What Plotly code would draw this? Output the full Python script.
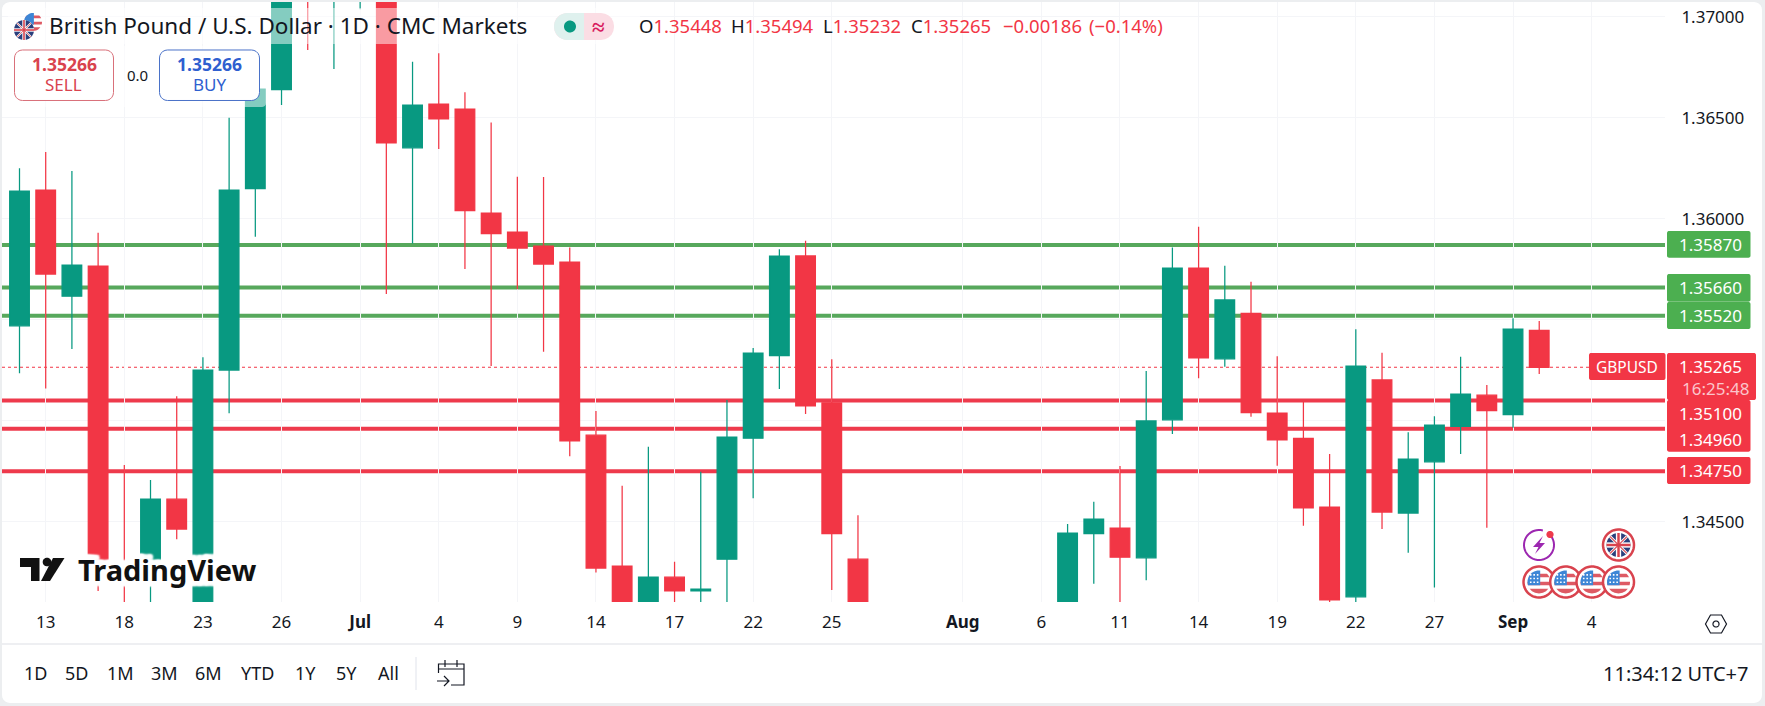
# GBPUSD daily candles, TradingView style

import numpy as np
import pandas as pd
import plotly.graph_objects as go

W, H = 1765, 706
FONT = "Noto Sans"
GREEN = "#089981"
RED = "#F23645"
LEVEL_GREEN = "#57A85C"
LEVEL_RED = "#EE3A4C"
TEXT = "#131722"

# weekdays from 12 Jun, None where the bar is below the visible range
DAYS = pd.bdate_range("2025-06-12", periods=66).strftime("%Y-%m-%d").tolist()

OPEN = [1.35470, 1.36142, 1.35617, 1.35766, 1.34038, 1.34302, 1.34612, 1.34063, 1.35251, 1.36149,
        1.36639, 1.37380, 1.37132, 1.37182, 1.37157, 1.36351, 1.36568, 1.36543, 1.36028, 1.35934,
        1.35865, 1.35786, 1.34929, 1.34281, 1.34053, 1.34226, 1.34158, 1.34315, 1.34914, 1.35322,
        1.35816, 1.35089, 1.34315, None, None, None, None, None, None, None,
        1.34053, 1.34441, 1.34469, 1.34322, 1.35005, 1.35756, 1.35307, 1.35532, 1.35038, 1.34913,
        1.34573, 1.34129, 1.35202, 1.34543, 1.34797, 1.34972, 1.35127, 1.35030, 1.35448]
HIGH = [1.36250, 1.36330, 1.36236, 1.35931, 1.34781, 1.34707, 1.35122, 1.35314, 1.36500, 1.36736,
        1.37231, 1.37429, 1.37380, 1.37479, 1.37231, 1.36777, 1.36819, 1.36626, 1.36477, 1.36208,
        1.36207, 1.35858, 1.35048, 1.34678, 1.34871, 1.34302, 1.34748, 1.35103, 1.35360, 1.35849,
        1.35891, 1.35305, 1.34533, None, None, None, None, None, None, None,
        1.34489, 1.34599, 1.34776, 1.35246, 1.35858, 1.35960, 1.35767, 1.35688, 1.35320, 1.35094,
        1.34835, 1.35453, 1.35337, 1.34943, 1.35023, 1.35317, 1.35177, 1.35507, 1.35494]
LOW = [1.35235, 1.35160, 1.35355, 1.34158, 1.33815, 1.34083, 1.34414, 1.34013, 1.35037, 1.35911,
       1.36563, 1.36835, 1.36741, 1.37037, 1.35627, 1.35878, 1.36345, 1.35751, 1.35271, 1.35651,
       1.35342, 1.34825, 1.34249, 1.33989, 1.34013, 1.34053, 1.34063, 1.34053, 1.34616, 1.35157,
       1.35033, 1.34162, 1.33989, None, None, None, None, None, None, None,
       1.34013, 1.34193, 1.34093, 1.34211, 1.34934, 1.35211, 1.35267, 1.35020, 1.34777, 1.34480,
       1.34103, 1.34103, 1.34464, 1.34347, 1.34175, 1.34835, 1.34470, 1.34965, 1.35232]
CLOSE = [1.36137, 1.35726, 1.35771, 1.34302, 1.33914, 1.34612, 1.34464, 1.35251, 1.36142, 1.36642,
         1.37182, 1.37206, 1.37281, 1.37330, 1.36376, 1.36563, 1.36495, 1.36040, 1.35926, 1.35855,
         1.35776, 1.34901, 1.34271, 1.34038, 1.34226, 1.34158, 1.34167, 1.34919, 1.35335, 1.35815,
         1.35074, 1.34441, 1.34053, None, None, None, None, None, None, None,
         1.34444, 1.34513, 1.34325, 1.34999, 1.35756, 1.35312, 1.35598, 1.35040, 1.34906, 1.34569,
         1.34114, 1.35271, 1.34548, 1.34810, 1.34979, 1.35132, 1.35050, 1.35454, 1.35265]

TICK_DAYS = ["2025-06-13", "2025-06-18", "2025-06-23", "2025-06-26", "2025-07-01", "2025-07-04",
             "2025-07-09", "2025-07-14", "2025-07-17", "2025-07-22", "2025-07-25", "2025-08-01",
             "2025-08-06", "2025-08-11", "2025-08-14", "2025-08-19", "2025-08-22", "2025-08-27",
             "2025-09-01", "2025-09-04"]
TICK_TEXT = ["13", "18", "23", "26", "<b>Jul</b>", "4", "9", "14", "17", "22", "25", "<b>Aug</b>",
             "6", "11", "14", "19", "22", "27", "<b>Sep</b>", "4"]

PRICE_TICKS = [1.345, 1.350, 1.355, 1.360, 1.365, 1.370]
PRICE_TEXT = ["1.34500", "", "", "1.36000", "1.36500", "1.37000"]

GREEN_LEVELS = [1.3587, 1.3566, 1.3552]
RED_LEVELS = [1.3510, 1.3496, 1.3475]
LAST_PRICE = 1.35265

RANGE_BUTTONS = ["1D", "5D", "1M", "3M", "6M", "YTD", "1Y", "5Y", "All"]
BUTTON_X = [35, 76.5, 120.5, 164.5, 208, 257, 305, 346, 388]


def px(x):
    return x / W


def py(y):
    return 1 - y / H


def poly(points):
    return "M" + " L".join(f"{px(x):.5f},{py(y):.5f}" for x, y in points) + " Z"


def round_rect(x0, y0, x1, y1, r):
    pts = []
    for cx, cy, a0 in [(x1 - r, y0 + r, -90), (x1 - r, y1 - r, 0), (x0 + r, y1 - r, 90), (x0 + r, y0 + r, 180)]:
        for a in np.linspace(a0, a0 + 90, 6):
            pts.append((cx + r * np.cos(np.radians(a)), cy + r * np.sin(np.radians(a))))
    return poly(pts)


shapes = []
annotations = []


def add_path(path, fill="rgba(0,0,0,0)", line=None, width=0, layer="above", opacity=1):
    shapes.append(dict(type="path", xref="paper", yref="paper", path=path, fillcolor=fill, layer=layer,
                       opacity=opacity, line=dict(color=line or "rgba(0,0,0,0)", width=width)))


def add_text(x, y, text, size=15, color=TEXT, anchor="left", **font):
    annotations.append(dict(x=px(x), y=py(y), xref="paper", yref="paper", text=text, showarrow=False,
                            xanchor=anchor, yanchor="middle", align=anchor, borderpad=0,
                            font=dict(family=FONT, size=size, color=color, **font)))


def circle(cx, cy, r, a0=0, a1=360, n=48):
    return [(cx + r * np.cos(np.radians(a)), cy + r * np.sin(np.radians(a))) for a in np.linspace(a0, a1, n)]


def band(cx, cy, r, d0, d1):
    # horizontal stripe of a disc
    ds = np.linspace(d0, d1, 8)
    left = [(cx - np.sqrt(max(r * r - d * d, 0)), cy + d) for d in ds]
    right = [(cx + np.sqrt(max(r * r - d * d, 0)), cy + d) for d in ds[::-1]]
    return left + right


def us_flag(cx, cy, r, ring=True):
    add_path(poly(circle(cx, cy, r)), fill="white", line="#D9434E" if ring else None, width=2.5 if ring else 0)
    q = r - 4 if ring else r
    add_path(poly(band(cx, cy, q, -0.02 * q, 0.28 * q)), fill="#DE5A64")
    add_path(poly(band(cx, cy, q, 0.58 * q, q)), fill="#DE5A64")
    add_path(poly(band(cx, cy, q, -0.72 * q, -0.42 * q)), fill="#DE5A64")
    add_path(poly(circle(cx, cy, q, 180, 270, 12) + [(cx + 0.1 * q, cy - q), (cx + 0.1 * q, cy + 0.28 * q), (cx - q * 0.96, cy + 0.28 * q)]),
             fill="#3D86D6")
    if ring:
        dots = ""
        for dx in [-0.72, -0.42, -0.12]:
            for dy in [-0.62, -0.3, 0.02]:
                x, y = cx + dx * q, cy + dy * q
                dots += poly([(x - 0.8, y - 0.8), (x + 0.8, y - 0.8), (x + 0.8, y + 0.8), (x - 0.8, y + 0.8)]) + " "
        add_path(dots, fill="white")


def uk_flag(cx, cy, r, ring=True):
    add_path(poly(circle(cx, cy, r)), fill="white", line="#D9434E" if ring else None, width=2.5 if ring else 0)
    q = r - 3.5 if ring else r
    add_path(poly(circle(cx, cy, q)), fill="#2A3F7C")
    k = q * 0.7
    for sx, col, w in [(1, "white", 0.18 * r), (-1, "white", 0.18 * r), (0, "white", 0.34 * r), (2, "white", 0.34 * r),
                       (1, "#D9434E", 0.07 * r), (-1, "#D9434E", 0.07 * r), (0, "#D9434E", 0.16 * r), (2, "#D9434E", 0.16 * r)]:
        if sx == 0:
            a, b = (cx - q, cy), (cx + q, cy)
        elif sx == 2:
            a, b = (cx, cy - q), (cx, cy + q)
        else:
            a, b = (cx - k, cy - sx * k), (cx + k, cy + sx * k)
        add_path(f"M{px(a[0]):.5f},{py(a[1]):.5f} L{px(b[0]):.5f},{py(b[1]):.5f}", line=col, width=w)


# page frame
add_path(round_rect(2, 2, 1762, 703, 8), fill="white", layer="below")

# support and resistance levels sit under the candles
for level in GREEN_LEVELS:
    shapes.append(dict(type="line", xref="x domain", yref="y", x0=0, x1=1, y0=level, y1=level, layer="below",
                       line=dict(color=LEVEL_GREEN, width=4)))
for level in RED_LEVELS:
    shapes.append(dict(type="line", xref="x domain", yref="y", x0=0, x1=1, y0=level, y1=level, layer="below",
                       line=dict(color=LEVEL_RED, width=4)))
shapes.append(dict(type="line", xref="x domain", yref="y", x0=0, x1=1, y0=LAST_PRICE, y1=LAST_PRICE, layer="below",
                   line=dict(color=RED, width=1, dash="dot")))

# translucent legend backing
add_path(round_rect(8, 8, 640, 44, 4), fill="white", opacity=0.5)
add_path(round_rect(8, 46, 266, 107, 4), fill="white", opacity=0.5)

# price scale tags
for y0, y1 in [(231, 257.7), (274, 301.7), (302, 329)]:
    add_path(round_rect(1667, y0, 1750.5, y1, 2), fill="#4CAF50")
for x0, y0, x1, y1 in [(1589, 353, 1665.5, 380), (1667, 353, 1756, 400), (1667, 400, 1750.5, 451.7), (1667, 457, 1750.5, 484)]:
    add_path(round_rect(x0, y0, x1, y1, 2), fill=RED)
for y, label in zip([244.5, 287.5, 315.5], ["1.35870", "1.35660", "1.35520"]):
    add_text(1743, y, label, size=17, color="white", anchor="right")
for y, label in zip([366.5, 413.5, 439, 470.5], ["1.35265", "1.35100", "1.34960", "1.34750"]):
    add_text(1743, y, label, size=17, color="white", anchor="right")
add_text(1750, 388, "16:25:48", size=17, color="#FBC5CB", anchor="right")
add_text(1627, 366.5, "GBPUSD", size=15.5, color="white", anchor="center")

# legend row
us_flag(33, 22, 9, ring=False)
uk_flag(24, 30, 10, ring=False)
add_text(48, 26, "British Pound / U.S. Dollar · 1D · CMC Markets", size=22.5)
add_path(round_rect(554, 13, 614, 40, 13), fill="#FBDDE4")
add_path(poly(circle(567.5, 26.5, 13.5, 90, 270, 16) + [(584, 13), (584, 40)]), fill="#DFF1EE")
add_path(poly(circle(570, 26.5, 6)), fill=GREEN)
add_text(598, 26, "<b>≈</b>", size=23, color="#D81B60", anchor="center")
for x, letter, value in [(638, "O", "1.35448"), (730, "H", "1.35494"), (822, "L", "1.35232"), (910, "C", "1.35265")]:
    add_text(x, 26, f"{letter}<span style='color:{RED}'>{value}</span>", size=18.5)
add_text(1002, 26, "−0.00186", size=18.5, color=RED)
add_text(1088, 26, "(−0.14%)", size=18.5, color=RED)

# sell and buy buttons
add_path(round_rect(14.5, 50, 113.5, 100.5, 8), fill="white", line="#D9707A", width=1)
add_path(round_rect(159.5, 50, 259.5, 100.5, 8), fill="white", line="#4A72C8", width=1)
add_text(64.5, 64, "<b>1.35266</b>", size=17.5, color="#D9434E", anchor="center")
add_text(64, 85, "SELL", size=17, color="#D9434E", anchor="center")
add_text(209.5, 64, "<b>1.35266</b>", size=17.5, color="#2F5FD0", anchor="center")
add_text(209, 85, "BUY", size=17, color="#2F5FD0", anchor="center")
add_text(137, 75.5, "0.0", size=15, anchor="center")

# TradingView logo
add_path(poly([(20, 558), (39.5, 558), (39.5, 581), (31, 581), (31, 567), (20, 567)]), fill="#111111")
add_path(poly(circle(47, 562, 4.3)), fill="#111111")
add_path(poly([(53, 558), (64.5, 558), (50, 581), (41, 581)]), fill="#111111")
halo = ", ".join(f"{dx}px {dy}px 2px white" for dx in (-5, -3, 0, 3, 5) for dy in (-5, -3, 0, 3, 5))
add_text(77, 569, "<b>TradingView</b>", size=29, color="#111111", shadow=halo)

# event icons
add_path("M" + " L".join(f"{px(x):.5f},{py(y):.5f}" for x, y in circle(1539, 545, 15, -35, 285, 40)), line="#9C27B0", width=2)
add_path(poly(circle(1550, 534.5, 3.6)), fill="#EE3A4C")
add_path(poly([(1543, 536), (1533, 547), (1538.5, 547), (1535, 554), (1545, 543), (1539.5, 543)]), fill="#9C27B0")
uk_flag(1618.5, 545, 15.5)
for cx in [1539, 1565.7, 1592, 1618.5]:
    us_flag(cx, 582, 15.5)

# bottom bar
shapes.append(dict(type="line", xref="paper", yref="paper", x0=px(2), x1=px(1762), y0=py(644), y1=py(644),
                   line=dict(color="#E8EAEE", width=1.5)))
shapes.append(dict(type="line", xref="paper", yref="paper", x0=px(416), x1=px(416), y0=py(657), y1=py(690),
                   line=dict(color="#E0E3EB", width=1)))
for x, label in zip(BUTTON_X, RANGE_BUTTONS):
    add_text(x, 673, label, size=18, anchor="center")
add_text(1749, 673, "11:34:12 UTC+7", size=20, anchor="right")

calendar = "M{0},{1} L{0},{2} L{3},{2} L{3},{4} L{5},{4}".format(px(438.5), py(673), py(664), px(464), py(685), px(451))
add_path(calendar, line=TEXT, width=1.2)
add_path(f"M{px(445)},{py(660)} L{px(445)},{py(667)} M{px(457)},{py(660)} L{px(457)},{py(667)} "
         f"M{px(438.5)},{py(669)} L{px(464)},{py(669)} M{px(437)},{py(681)} L{px(449)},{py(681)} "
         f"M{px(444)},{py(676)} L{px(449)},{py(681)} L{px(444)},{py(686)}", line=TEXT, width=1.2)

# auto-scale hexagon
add_path(poly([(1705.5, 624), (1710.5, 615), (1721.5, 615), (1726.5, 624), (1721.5, 633), (1710.5, 633)]), line=TEXT, width=1.2)
add_path(poly(circle(1716, 624, 3)), line=TEXT, width=1.2)

fig = go.Figure()
fig.add_trace(go.Candlestick(
    x=DAYS[:len(OPEN)],
    open=OPEN,
    high=HIGH,
    low=LOW,
    close=CLOSE,
    increasing=dict(line=dict(color=GREEN, width=1.25), fillcolor=GREEN),
    decreasing=dict(line=dict(color=RED, width=1.25), fillcolor=RED),
    showlegend=False,
))

fig.update_layout(
    width=W,
    height=H,
    margin=dict(l=0, r=0, t=0, b=0),
    paper_bgcolor="#ECEEF0",
    plot_bgcolor="rgba(0,0,0,0)",
    boxgap=0,
    boxgroupgap=0.25,
    shapes=shapes,
    annotations=annotations,
    font=dict(family=FONT, color=TEXT),
    xaxis=dict(
        domain=[px(2), px(1665)],
        type="category",
        categoryorder="array",
        categoryarray=DAYS,
        range=[-0.668, 62.8],
        rangeslider=dict(visible=False),
        tickmode="array",
        tickvals=TICK_DAYS,
        ticktext=TICK_TEXT,
        tickangle=0,
        tickfont=dict(size=17, color=TEXT),
        ticks="outside",
        ticklen=5,
        tickcolor="rgba(0,0,0,0)",
        showgrid=True,
        gridcolor="#F4F5F8",
        gridwidth=1,
        showline=False,
        zeroline=False,
    ),
    yaxis=dict(
        domain=[py(602), py(2)],
        side="right",
        range=[1.34103, 1.37073],
        tickmode="array",
        tickvals=PRICE_TICKS,
        ticktext=PRICE_TEXT,
        tickfont=dict(size=17, color=TEXT),
        ticks="outside",
        ticklen=12,
        tickcolor="rgba(0,0,0,0)",
        showgrid=True,
        gridcolor="#F4F5F8",
        gridwidth=1,
        showline=False,
        zeroline=False,
    ),
)

fig.write_html("out.html", config={"displayModeBar": False}, post_script="document.body.style.margin='0';")
